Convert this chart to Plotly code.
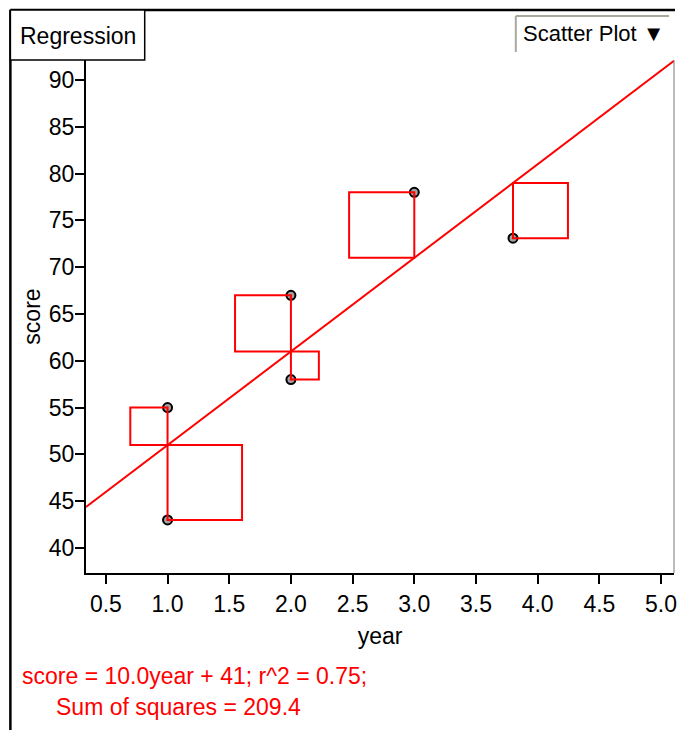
import plotly.graph_objects as go

# ---- data ----
year = [1.0, 1.0, 2.0, 2.0, 3.0, 3.8]
score = [55, 43, 67, 58, 78, 73.1]
slope = 10.0
intercept = 41
x_ticks = [0.5, 1.0, 1.5, 2.0, 2.5, 3.0, 3.5, 4.0, 4.5, 5.0]
y_ticks = [40, 45, 50, 55, 60, 65, 70, 75, 80, 85, 90]
eq_text = "score = 10.0year + 41; r^2 = 0.75;"
ss_text = "Sum of squares = 209.4"

W, H = 678, 730
ML, MR, MT, MB = 86, 1, 60, 157
PW, PH = W - ML - MR, H - MT - MB
x_range = [0.339, 5.105]
y_range = [37.33, 92.14]

FONT = "Liberation Sans, Arial, sans-serif"
FS = 23
RED = "#ff0000"

def px(x):
    return (x - ML) / PW

def py(y):
    return (H - MB - y) / PH

kx = PW / (x_range[1] - x_range[0])
ky = PH / (y_range[1] - y_range[0])

fig = go.Figure()

# regression line
fig.add_trace(go.Scatter(
    x=x_range, y=[slope * v + intercept for v in x_range],
    mode="lines", line=dict(color=RED, width=2), hoverinfo="skip", showlegend=False))

shapes = []
for xv, yv in zip(year, score):
    pred = slope * xv + intercept
    r = yv - pred
    side = abs(r) * ky / kx
    if r > 0:
        x0, x1 = xv - side, xv
    else:
        x0, x1 = xv, xv + side
    shapes.append(dict(type="rect", xref="x", yref="y", x0=x0, x1=x1,
                       y0=min(yv, pred), y1=max(yv, pred),
                       line=dict(color=RED, width=2), fillcolor="rgba(0,0,0,0)", layer="above"))

fig.add_trace(go.Scatter(
    x=year, y=score, mode="markers",
    marker=dict(size=9, color="#a0a0a0", line=dict(color="black", width=2)),
    showlegend=False, cliponaxis=False))

# frame lines
shapes += [
    dict(type="line", xref="paper", yref="paper", x0=px(10), x1=px(678), y0=py(10), y1=py(10),
         line=dict(color="black", width=2.5)),
    dict(type="line", xref="paper", yref="paper", x0=px(10), x1=px(10), y0=py(10), y1=py(730),
         line=dict(color="black", width=2.5)),
    dict(type="rect", xref="paper", yref="paper", x0=px(10), x1=px(145), y0=py(60), y1=py(10),
         line=dict(color="black", width=1.5), fillcolor="white"),
    dict(type="line", xref="paper", yref="paper", x0=px(677), x1=px(677), y0=py(60), y1=py(573),
         line=dict(color="#777777", width=1)),
    dict(type="line", xref="paper", yref="paper", x0=px(518), x1=px(518), y0=py(16), y1=py(52),
         line=dict(color="#a8a89c", width=2)),
    dict(type="line", xref="paper", yref="paper", x0=px(518), x1=px(672), y0=py(16), y1=py(16),
         line=dict(color="#a8a89c", width=2)),
]

annotations = [
    dict(text="Regression", xref="paper", yref="paper", x=px(78), y=py(36),
         showarrow=False, font=dict(family=FONT, size=FS, color="black"), xanchor="center", yanchor="middle"),
    dict(text="Scatter Plot \u25BC", xref="paper", yref="paper", x=px(523), y=py(34),
         showarrow=False, font=dict(family=FONT, size=FS - 1, color="black"), xanchor="left", yanchor="middle"),
    dict(text=eq_text, xref="paper", yref="paper", x=px(20), y=py(676),
         showarrow=False, font=dict(family=FONT, size=FS, color=RED), xanchor="left", yanchor="middle"),
    dict(text=ss_text, xref="paper", yref="paper", x=px(54), y=py(707),
         showarrow=False, font=dict(family=FONT, size=FS, color=RED), xanchor="left", yanchor="middle"),
]

fig.update_layout(
    width=W, height=H,
    margin=dict(l=ML, r=MR, t=MT, b=MB, pad=0),
    paper_bgcolor="white", plot_bgcolor="white",
    shapes=shapes, annotations=annotations,
    showlegend=False,
    font=dict(family=FONT, size=FS, color="black"),
    xaxis=dict(range=x_range, tickvals=x_ticks, ticktext=[f"{v:.1f}" for v in x_ticks],
               showgrid=False, zeroline=False, showline=True, linecolor="black", linewidth=2,
               ticks="outside", ticklen=9, tickwidth=2, tickcolor="black",
               ticklabeloverflow="allow",
               tickfont=dict(family=FONT, size=FS, color="black"),
               title=dict(text="year", standoff=12, font=dict(family=FONT, size=FS, color="black"))),
    yaxis=dict(range=y_range, tickvals=y_ticks, ticktext=[str(v) for v in y_ticks],
               showgrid=False, zeroline=False, showline=True, linecolor="black", linewidth=2,
               ticks="outside", ticklen=9, tickwidth=1.5, tickcolor="black",
               ticklabeloverflow="allow", ticklabelstandoff=-4,
               tickfont=dict(family=FONT, size=FS, color="black"),
               title=dict(text="score", standoff=2, font=dict(family=FONT, size=FS, color="black"))),
)

fig.write_html("out.html", config={"displayModeBar": False},
               post_script="document.body.style.margin='0';document.body.style.overflow='hidden';")
